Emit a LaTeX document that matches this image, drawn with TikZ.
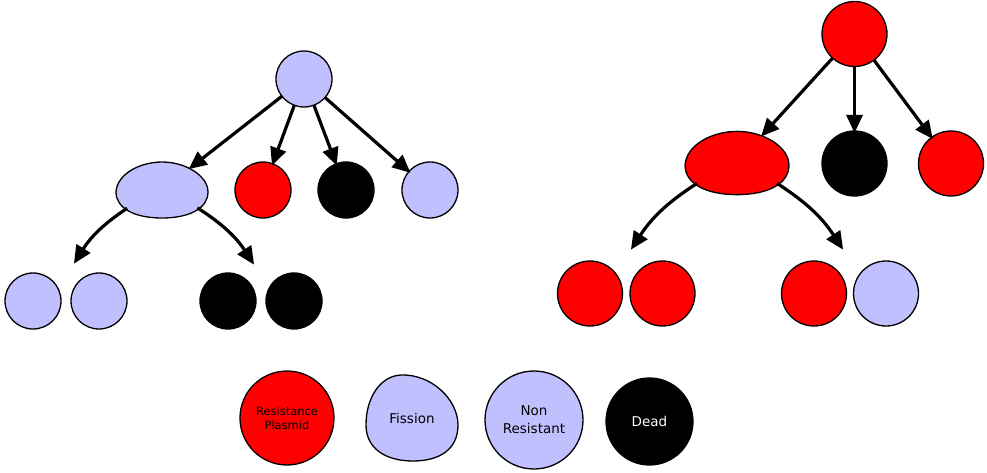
\documentclass[tikz,border=0pt]{standalone}
\usepackage{fontspec}
\setmainfont{DejaVu Sans}
\usetikzlibrary{arrows.meta,shapes.geometric}
\definecolor{lavender}{RGB}{192,192,255}

\tikzset{
  dome/.pic={
    \draw[-,line width=1.3pt,fill=#1] (-46,-2) .. controls (-45,16) and (-22,28) .. (0,28)
      .. controls (24,28) and (46,14) .. (46,-2)
      .. controls (46,-18) and (28,-28) .. (0,-28)
      .. controls (-28,-28) and (-46,-18) .. (-46,-2) -- cycle;
  }
}

\begin{document}
\begin{tikzpicture}[x=1pt,y=1pt,->,>={Triangle[length=18pt,width=16pt]},
  line width=3.2pt,shorten >=-2pt]
  \tikzstyle{cell}=[circle,draw=black,line width=1.3pt,inner sep=0pt,outer sep=0pt]
  \tikzstyle{split}=[ellipse,draw=none,inner sep=0pt,outer sep=0pt]
  \tikzstyle{small}=[cell,minimum size=56pt]
  \tikzstyle{big}=[cell,minimum size=65pt]

  \useasboundingbox (0,0) rectangle (987,-473);

  % non resistant parent
  \node[small,fill=lavender] (N)  at (304,-79)  {};
  \node[split,minimum width=92pt,minimum height=56pt] (NF) at (162,-190) {};
  \pic at (NF) {dome=lavender};
  \node[small,fill=red]      (NR) at (263,-190) {};
  \node[small,fill=black]    (ND) at (346,-190) {};
  \node[small,fill=lavender] (NN) at (430,-190) {};

  \node[small,fill=lavender] (NF1) at (33,-301)  {};
  \node[small,fill=lavender] (NF2) at (99,-301)  {};
  \node[small,fill=black]    (NF3) at (228,-301) {};
  \node[small,fill=black]    (NF4) at (294,-301) {};
  \coordinate (NFl) at (75,-262);
  \coordinate (NFr) at (253,-263);

  % resistant parent
  \node[big,fill=red]   (R)  at (854.5,-34) {};
  \node[split,minimum width=104pt,minimum height=64pt] (RF) at (737,-163) {};
  \pic[scale=1.13] at (RF) {dome=red};
  \node[big,fill=black] (RD) at (854.5,-163.5) {};
  \node[big,fill=red]   (RR) at (951,-163.5) {};

  \node[big,fill=red]      (RF1) at (590,-293.5) {};
  \node[big,fill=red]      (RF2) at (662.5,-293.5) {};
  \node[big,fill=red]      (RF3) at (814,-293.5) {};
  \node[big,fill=lavender] (RF4) at (886,-293.5) {};
  \coordinate (RFl) at (632,-248);
  \coordinate (RFr) at (842,-248);

  \path (N)  edge (NF)
        (N)  edge (NR)
        (N)  edge (ND)
        (N)  edge (NN)
        (NF) edge [bend right=12] (NFl)
        (NF) edge [bend left=12]  (NFr)
        (R)  edge (RF)
        (R)  edge (RD)
        (R)  edge (RR)
        (RF) edge [bend right=12] (RFl)
        (RF) edge [bend left=12]  (RFr)
        ;

  % key
  \node[cell,fill=red,minimum size=94pt,align=center,
    font=\fontsize{11.5}{14}\selectfont] (keyR) at (287,-418) {Resistance\\Plasmid};
  \draw[-,line width=1.3pt,fill=lavender] (401,-375) .. controls (432,-374) and (458,-400) .. (458,-425)
    .. controls (458,-449) and (440,-461) .. (413,-461)
    .. controls (385,-461) and (366,-448) .. (366,-425)
    .. controls (366,-398) and (380,-376) .. (401,-375) -- cycle;
  \node[font=\fontsize{13.5}{18}\selectfont] (keyF) at (412,-418) {Fission};
  \node[cell,fill=lavender,minimum size=98pt,align=center,
    font=\fontsize{13.5}{18}\selectfont] (keyN) at (534,-420) {Non\\Resistant};
  \node[cell,fill=black,text=white,minimum size=87pt,
    font=\fontsize{13.5}{18}\selectfont] (keyD) at (649.5,-421.5) {Dead};
\end{tikzpicture}
\end{document}
